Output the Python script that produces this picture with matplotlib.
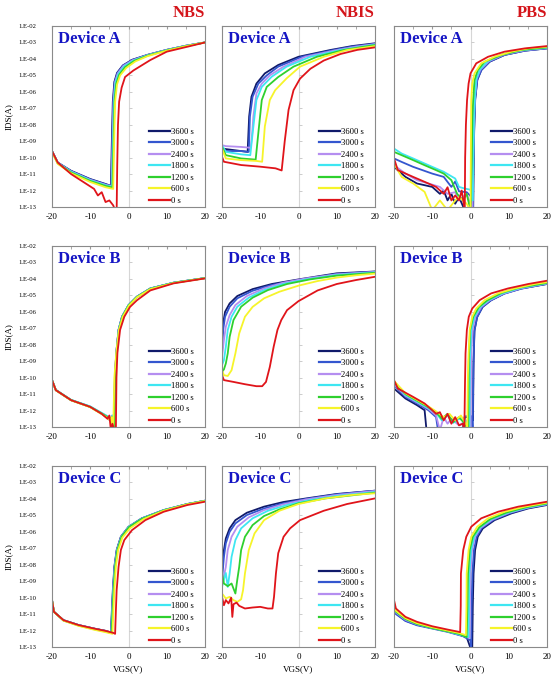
import numpy as np
import matplotlib.pyplot as plt
from matplotlib.ticker import NullLocator, FixedLocator, NullFormatter

plt.rcParams['font.family'] = ['Liberation Serif', 'DejaVu Serif']
plt.rcParams['axes.unicode_minus'] = False

times = ['3600 s', '3000 s', '2400 s', '1800 s', '1200 s', '600 s', '0 s']
colors = ['#101a6a', '#3456cf', '#b58ef0', '#3ee6f2', '#2ed02e', '#f6f42a', '#e0141a']
devices = ['Device A', 'Device B', 'Device C']
stresses = ['NBS', 'NBIS', 'PBS']
decades = list(range(-13, -1))

# each curve: (VGS values, log10 IDS values)
nbs_a = {
    '3600 s': ([-20, -18.5, -15, -10, -6, -4.6, -4.35, -4.1, -3.7, -3.0, -1.5, 1, 5, 10, 15, 20],
               [-9.6, -10.3, -10.8, -11.3, -11.6, -11.72, -9.0, -6.6, -5.4, -4.85, -4.4, -4.05, -3.75, -3.45, -3.2, -3.0]),
    '3000 s': ([-20, -18.5, -15, -10, -6, -4.5, -4.25, -4.0, -3.6, -2.9, -1.4, 1, 5, 10, 15, 20],
               [-9.6, -10.3, -10.82, -11.32, -11.62, -11.72, -9.0, -6.6, -5.4, -4.85, -4.4, -4.06, -3.76, -3.45, -3.2, -3.0]),
    '2400 s': ([-20, -18.5, -15, -10, -6, -4.4, -4.15, -3.9, -3.5, -2.8, -1.3, 1.1, 5, 10, 15, 20],
               [-9.62, -10.32, -10.84, -11.35, -11.65, -11.75, -9.0, -6.6, -5.42, -4.88, -4.42, -4.08, -3.77, -3.46, -3.2, -3.0]),
    '1800 s': ([-20, -18.5, -15, -10, -6, -4.3, -4.05, -3.8, -3.4, -2.6, -1.1, 1.3, 5, 10, 15, 20],
               [-9.62, -10.33, -10.86, -11.38, -11.68, -11.78, -9.0, -6.6, -5.45, -4.9, -4.45, -4.1, -3.78, -3.47, -3.21, -3.0]),
    '1200 s': ([-20, -18.5, -15, -10, -6, -4.2, -3.9, -3.65, -3.2, -2.4, -0.9, 1.5, 5, 10, 15, 20],
               [-9.63, -10.35, -10.9, -11.42, -11.72, -11.82, -9.0, -6.6, -5.5, -4.95, -4.5, -4.12, -3.8, -3.48, -3.22, -3.0]),
    '600 s': ([-20, -18.5, -15, -10, -6, -4.0, -3.75, -3.5, -3.0, -2.2, -0.6, 1.8, 5, 10, 15, 20],
              [-9.65, -10.38, -10.95, -11.48, -11.8, -11.9, -9.0, -6.6, -5.55, -5.0, -4.55, -4.15, -3.83, -3.5, -3.23, -3.0]),
    '0 s': ([-20, -18.5, -15, -11, -9, -8, -7, -6, -5, -4, -3.3, -3.1, -2.95, -2.75, -2.45, -1.8, -0.9, 1.3, 5.7, 10, 15.4, 20],
            [-9.6, -10.3, -11.0, -11.6, -11.9, -12.3, -12.1, -12.7, -12.6, -12.9, -13.3, -13.3, -10.5, -8.0, -6.6, -5.75, -5.1, -4.7, -4.07, -3.56, -3.26, -3.0]),
}

nbis_a = {
    '3600 s': ([-20, -15, -13.3, -12.9, -12.3, -11, -8.8, -5.3, 0, 8.3, 14, 20],
               [-9.45, -9.6, -9.65, -7.5, -6.3, -5.5, -4.88, -4.37, -3.87, -3.46, -3.22, -3.05]),
    '3000 s': ([-20, -19, -15, -13, -12.7, -12, -10.5, -8.3, -5.3, 0.9, 9.2, 14, 20],
               [-9.45, -9.6, -9.6, -9.65, -7.5, -6.3, -5.5, -5.0, -4.47, -3.87, -3.46, -3.25, -3.08]),
    '2400 s': ([-20, -19, -15, -12.5, -12.1, -11.8, -11, -9.6, -7.5, -3.9, 1.8, 10.1, 15, 20],
               [-9.24, -9.3, -9.35, -9.4, -8.5, -7.5, -6.1, -5.5, -5.0, -4.47, -3.87, -3.46, -3.26, -3.1]),
    '1800 s': ([-20, -19, -15, -12.6, -12, -11, -9.6, -7, -3.1, 3.1, 11, 15.5, 20],
               [-9.24, -9.65, -9.8, -9.85, -8.53, -6.5, -5.7, -5.08, -4.47, -3.87, -3.46, -3.3, -3.13]),
    '1200 s': ([-20, -19, -15, -11.2, -10.5, -9.6, -8.3, -5.3, -1.3, 4.8, 11.8, 16, 20],
               [-9.35, -9.85, -10.05, -10.12, -8.5, -6.5, -5.7, -5.1, -4.47, -3.87, -3.46, -3.3, -3.16]),
    '600 s': ([-20, -19, -15, -11, -9.5, -8.8, -7.5, -6.1, -3.1, 0.4, 6.6, 12.7, 20],
              [-9.45, -10.05, -10.15, -10.2, -10.25, -8.1, -6.5, -5.9, -5.18, -4.47, -3.87, -3.46, -3.22]),
    '0 s': ([-20, -19.5, -15, -10, -6, -4.4, -3.6, -2.6, -1.3, 0.4, 3.1, 6.6, 11, 15.4, 20],
            [-9.95, -10.25, -10.45, -10.55, -10.65, -10.78, -9.0, -7.1, -5.9, -5.2, -4.6, -4.1, -3.7, -3.45, -3.3]),
}

pbs_a = {
    '3600 s': ([-20, -17, -14, -10, -8, -7, -6, -5, -4, -3, -1.5, 0.7, 0.95, 1.2, 1.75, 2.8, 5.0, 8.9, 14.2, 20],
               [-10.56, -11.17, -11.57, -11.78, -12.2, -12.0, -12.6, -12.2, -12.8, -12.4, -13.2, -13.2, -8.5, -6.5, -5.29, -4.68, -4.17, -3.76, -3.5, -3.36]),
    '3000 s': ([-20, -18, -15, -10, -7, -5, -4, -3, -1, 0.3, 0.6, 0.75, 1.0, 1.25, 1.8, 2.9, 5.1, 9, 14.3, 20],
               [-10.05, -10.26, -10.56, -10.97, -11.17, -11.78, -11.45, -12.05, -12.1, -12.4, -13.2, -10.0, -7.8, -6.4, -5.25, -4.66, -4.15, -3.75, -3.5, -3.36]),
    '2400 s': ([-20, -17, -14, -11, -8, -6, -4, -3, -1, 0.5, 0.7, 0.9, 1.1, 1.6, 2.6, 4.8, 8.7, 14, 20],
               [-10.46, -10.97, -11.37, -11.57, -11.78, -12.2, -12.1, -12.6, -12.2, -13.2, -10, -7.5, -6.4, -5.2, -4.64, -4.14, -3.74, -3.48, -3.34]),
    '1800 s': ([-20, -18, -15, -10, -7, -4, -3, -1.5, 0, 0.6, 0.75, 0.9, 1.1, 1.5, 2.4, 4.5, 8.4, 13.7, 20],
               [-9.45, -9.75, -10.05, -10.56, -10.86, -11.27, -11.78, -11.88, -11.95, -12.6, -10, -7.8, -6.5, -5.25, -4.65, -4.13, -3.72, -3.46, -3.32]),
    '1200 s': ([-20, -18, -15, -12, -9, -7, -5, -3.5, -2, -1, 0, 0.35, 0.5, 0.7, 1.05, 1.9, 3.7, 8.1, 13.3, 20],
               [-9.65, -9.85, -10.15, -10.46, -10.76, -10.97, -11.37, -12.2, -12.6, -12.2, -13.2, -10, -7.5, -6.5, -5.29, -4.68, -4.17, -3.76, -3.46, -3.3]),
    '600 s': ([-20, -18, -15, -12, -10, -8, -6, -4, -3, -1, 0, 0.1, 0.2, 0.45, 1.05, 2.8, 6.3, 10.7, 15.1, 20],
              [-10.36, -11.17, -11.57, -12.08, -13.2, -12.6, -13.2, -12.6, -12.4, -12.8, -13.2, -9.5, -6.5, -5.5, -4.88, -4.27, -3.87, -3.56, -3.36, -3.26]),
    '0 s': ([-20, -19, -15, -12, -9, -7, -6, -5, -4, -3, -2.3, -1.5, -1.4, -1.2, -0.9, -0.5, 0, 1.5, 4.6, 8.9, 14.2, 20],
            [-10.05, -10.76, -11.17, -11.47, -11.78, -12.2, -11.8, -12.6, -12.3, -12.6, -12.0, -13.2, -10.0, -8.0, -6.5, -5.5, -4.88, -4.27, -3.87, -3.56, -3.36, -3.22]),
}

nbs_b = {
    '3600 s': ([-20, -19, -15, -10, -7, -5.5, -4.8, -4.3, -4.0, -3.8, -3.55, -3.2, -2.6, -1.7, 0, 2.2, 5.7, 11.8, 20],
               [-10.15, -10.76, -11.37, -11.78, -12.2, -12.45, -12.6, -12.5, -13.2, -13.2, -10, -8.5, -7.1, -6.3, -5.6, -5.08, -4.58, -4.23, -3.95]),
    '3000 s': ([-20, -19, -15, -10, -7, -5.5, -4.8, -4.3, -4.0, -3.8, -3.55, -3.2, -2.6, -1.7, 0, 2.2, 5.7, 11.8, 20],
               [-10.14, -10.75, -11.36, -11.77, -12.18, -12.42, -12.55, -12.45, -13.2, -13.2, -10, -8.5, -7.1, -6.3, -5.6, -5.08, -4.58, -4.23, -3.95]),
    '2400 s': ([-20, -19, -15, -10, -7, -5.5, -4.8, -4.3, -4.0, -3.8, -3.5, -3.15, -2.55, -1.65, 0, 2.2, 5.7, 11.8, 20],
               [-10.15, -10.76, -11.36, -11.76, -12.15, -12.35, -12.5, -12.3, -13.2, -13.2, -10, -8.5, -7.1, -6.3, -5.6, -5.09, -4.59, -4.23, -3.95]),
    '1800 s': ([-20, -19, -15, -10, -7, -5.5, -4.8, -4.5, -4.2, -3.9, -3.5, -3.15, -2.55, -1.65, 0, 2.2, 5.7, 11.8, 20],
               [-10.15, -10.75, -11.35, -11.75, -12.15, -12.35, -12.45, -12.8, -12.3, -13.2, -10, -8.5, -7.1, -6.3, -5.6, -5.09, -4.59, -4.23, -3.95]),
    '1200 s': ([-20, -19, -15, -10, -7, -5.5, -4.8, -4.3, -4.0, -3.8, -3.5, -3.1, -2.5, -1.6, 0, 2.2, 5.7, 11.8, 20],
               [-10.15, -10.76, -11.37, -11.78, -12.18, -12.4, -12.5, -12.4, -13.2, -13.2, -10, -8.5, -7.1, -6.3, -5.62, -5.1, -4.6, -4.24, -3.95]),
    '600 s': ([-20, -19, -15, -10, -7, -5.5, -4.8, -4.4, -4.2, -4.0, -3.7, -3.2, -2.5, -1.5, 0.1, 2.2, 5.7, 11.8, 20],
              [-10.16, -10.77, -11.38, -11.8, -12.22, -12.45, -12.6, -12.4, -13.2, -13.2, -10, -8.5, -7.1, -6.3, -5.63, -5.12, -4.62, -4.25, -3.96]),
    '0 s': ([-20, -19, -15, -10, -7, -5.5, -5, -4.6, -4.2, -3.7, -3.3, -3.15, -2.9, -2.2, -1.1, 0.4, 2.2, 5.7, 11.8, 20],
            [-10.15, -10.76, -11.37, -11.78, -12.2, -12.5, -12.3, -13.2, -12.8, -13.2, -13.2, -10, -8.5, -7.1, -6.3, -5.7, -5.3, -4.7, -4.27, -3.97]),
}

nbis_b = {
    '3600 s': ([-20, -19.7, -19.2, -18, -16, -12, -7, 0, 10, 20],
               [-7.92, -6.7, -6.0, -5.49, -5.04, -4.62, -4.31, -4.03, -3.66, -3.55]),
    '3000 s': ([-20, -19.7, -19.2, -18, -16, -12, -7, 0, 10, 20],
               [-8.33, -7.1, -6.3, -5.69, -5.18, -4.72, -4.37, -4.07, -3.7, -3.56]),
    '2400 s': ([-20, -19.5, -19, -18, -16.5, -13.5, -9, -4, 2, 10, 20],
               [-8.73, -7.72, -6.9, -6.2, -5.59, -5.04, -4.58, -4.23, -3.97, -3.72, -3.58]),
    '1800 s': ([-20, -19.5, -19, -18.5, -17.5, -16, -13, -9, -4, 2, 10, 20],
               [-9.24, -8.94, -8.13, -7.11, -6.3, -5.69, -5.14, -4.68, -4.31, -4.03, -3.76, -3.6]),
    '1200 s': ([-20, -19.5, -19, -18.5, -18, -17, -15, -12, -8, -3, 3, 10, 20],
               [-9.65, -9.5, -9.14, -8.53, -7.52, -6.5, -5.69, -5.14, -4.68, -4.31, -4.03, -3.8, -3.63]),
    '600 s': ([-20, -19.5, -18.5, -17.5, -16.5, -15.5, -14, -12, -9, -5, 0, 5, 10, 15, 20],
              [-9.55, -9.85, -9.9, -9.55, -8.53, -7.31, -6.3, -5.7, -5.18, -4.78, -4.41, -4.13, -3.92, -3.78, -3.68]),
    '0 s': ([-20, -19.5, -17, -14, -11, -9.5, -8.5, -7.5, -6.5, -5.5, -4.5, -3, 0, 5, 10, 15, 20],
            [-9.85, -10.15, -10.26, -10.4, -10.52, -10.52, -10.26, -9.35, -8.13, -7.1, -6.5, -5.9, -5.35, -4.7, -4.31, -4.07, -3.87]),
}

pbs_b = {
    '3600 s': ([-20, -17, -14, -12, -11.5, -2, -1.5, 0.5, 0.65, 0.8, 1.05, 1.75, 3.2, 5.4, 8.9, 13.3, 20],
               [-10.66, -11.27, -11.67, -11.98, -13.2, -13.2, -12.4, -12.4, -12.6, -9.0, -7.1, -6.3, -5.69, -5.29, -4.88, -4.58, -4.31]),
    '3000 s': ([-20, -17, -14, -11, -9, -8.5, -2, -1.5, 0.4, 0.55, 0.75, 1.0, 1.7, 3.1, 5.3, 8.8, 13.2, 20],
               [-10.46, -11.17, -11.57, -11.98, -12.4, -13.2, -13.2, -12.35, -12.35, -13.2, -9.5, -7.2, -6.35, -5.72, -5.31, -4.9, -4.6, -4.3]),
    '2400 s': ([-20, -17, -14, -11, -9, -8, -7, -6, -5, -3, -1, 0, 0.15, 0.5, 1.3, 2.8, 5, 8.5, 13, 20],
               [-10.4, -11.1, -11.5, -11.9, -12.3, -13.2, -12.4, -12.8, -12.5, -12.9, -12.6, -13.2, -9.0, -7.1, -6.3, -5.7, -5.3, -4.9, -4.58, -4.28]),
    '1800 s': ([-20, -17, -14, -11, -9, -7.5, -6, -4.5, -3, -1.5, -0.3, -0.15, 0.2, 1.0, 2.5, 4.7, 8.3, 12.8, 20],
               [-10.3, -11.05, -11.45, -11.85, -12.15, -12.6, -12.3, -12.75, -12.5, -12.6, -13.2, -9.0, -7.1, -6.3, -5.7, -5.3, -4.88, -4.56, -4.26]),
    '1200 s': ([-20, -17, -14, -11, -9, -7.5, -6, -4.5, -3, -1.5, -0.6, -0.45, -0.1, 0.7, 2.2, 4.4, 8, 12.5, 20],
               [-10.25, -11.0, -11.4, -11.8, -12.1, -12.5, -12.2, -12.7, -12.4, -12.8, -13.2, -9.0, -7.1, -6.3, -5.7, -5.3, -4.86, -4.54, -4.24]),
    '600 s': ([-20, -17, -14, -11, -9, -7, -5.5, -4, -2.5, -1, -0.85, -0.7, -0.5, -0.2, 0.45, 1.5, 3.7, 7.2, 11.6, 16.8, 20],
              [-10.2, -10.95, -11.35, -11.75, -12.05, -12.4, -12.2, -12.6, -12.3, -12.9, -13.2, -10, -8.53, -7.1, -6.3, -5.8, -5.29, -4.88, -4.58, -4.31, -4.2]),
    '0 s': ([-20, -19, -15, -12, -10, -9, -8, -7, -6, -5, -4, -3, -2, -1.6, -1.45, -1.3, -0.95, -0.45, 0.45, 2.4, 5.4, 9.8, 15.1, 20],
            [-10.15, -10.66, -11.17, -11.57, -11.98, -12.2, -12.1, -12.6, -12.2, -12.8, -12.4, -12.9, -12.8, -13.2, -10.5, -8.53, -7.1, -6.3, -5.8, -5.29, -4.88, -4.58, -4.31, -4.11]),
}

nbs_c = {
    '3600 s': ([-20, -19.5, -17, -13, -9, -6, -4.6, -4.35, -4.1, -3.7, -3.1, -2.0, 0, 3.5, 9.2, 15.4, 20],
               [-10.15, -10.86, -11.37, -11.67, -11.88, -12.02, -12.12, -10.8, -9.55, -8.13, -7.11, -6.3, -5.7, -5.18, -4.68, -4.31, -4.11]),
    '3000 s': ([-20, -19.5, -17, -13, -9, -6, -4.55, -4.3, -4.05, -3.65, -3.05, -1.95, 0, 3.5, 9.2, 15.4, 20],
               [-10.15, -10.86, -11.37, -11.67, -11.88, -12.02, -12.12, -10.8, -9.55, -8.13, -7.11, -6.3, -5.7, -5.18, -4.68, -4.31, -4.11]),
    '2400 s': ([-20, -19.5, -17, -13, -9, -6, -4.5, -4.25, -4.0, -3.6, -3.0, -1.9, 0.05, 3.55, 9.2, 15.4, 20],
               [-10.15, -10.86, -11.38, -11.68, -11.9, -12.04, -12.14, -10.8, -9.55, -8.13, -7.11, -6.3, -5.7, -5.19, -4.69, -4.32, -4.11]),
    '1800 s': ([-20, -19.5, -17, -13, -9, -6, -4.45, -4.2, -3.95, -3.55, -2.95, -1.85, 0.1, 3.6, 9.2, 15.4, 20],
               [-10.15, -10.86, -11.38, -11.68, -11.9, -12.04, -12.14, -10.8, -9.55, -8.13, -7.11, -6.3, -5.7, -5.19, -4.69, -4.32, -4.11]),
    '1200 s': ([-20, -19.5, -17, -13, -9, -6, -4.4, -4.15, -3.9, -3.5, -2.9, -1.8, 0.15, 3.6, 9.2, 15.4, 20],
               [-10.15, -10.86, -11.39, -11.7, -11.92, -12.06, -12.16, -10.8, -9.55, -8.13, -7.11, -6.3, -5.71, -5.2, -4.7, -4.32, -4.12]),
    '600 s': ([-20, -19.5, -17, -13, -9, -6, -4.2, -3.95, -3.7, -3.3, -2.7, -1.6, 0.4, 4.0, 9.2, 15.4, 20],
              [-10.15, -10.86, -11.4, -11.72, -11.95, -12.1, -12.2, -10.8, -9.55, -8.13, -7.11, -6.35, -5.78, -5.22, -4.72, -4.33, -4.13]),
    '0 s': ([-20, -19.5, -17, -13, -9, -6, -4, -3.5, -3.3, -3.1, -2.6, -2.0, -1.1, 0.9, 4.4, 9.2, 15.4, 20],
            [-10.15, -10.86, -11.37, -11.67, -11.88, -12.02, -12.14, -12.2, -10.8, -9.55, -8.13, -7.11, -6.5, -5.9, -5.29, -4.78, -4.37, -4.17]),
}

nbis_c = {
    '3600 s': ([-20, -19.5, -19, -18, -16.5, -13.5, -9, -4, 2, 10, 20],
               [-8.33, -7.11, -6.4, -5.79, -5.29, -4.84, -4.47, -4.19, -3.97, -3.7, -3.5]),
    '3000 s': ([-20, -19.5, -19, -18, -16.5, -13.5, -9, -4, 2, 10, 20],
               [-8.94, -7.52, -6.7, -6.0, -5.49, -4.98, -4.58, -4.27, -4.0, -3.72, -3.5]),
    '2400 s': ([-20, -19.5, -19, -18.5, -17.5, -16, -13, -9, -4, 2, 10, 20],
               [-9.14, -8.7, -8.13, -7.11, -6.3, -5.69, -5.12, -4.68, -4.33, -4.03, -3.76, -3.52]),
    '1800 s': ([-20, -19.5, -19, -18.5, -18, -17.5, -16.5, -15, -12, -8, -3, 3, 10, 20],
               [-9.35, -8.9, -8.5, -9.35, -8.53, -7.52, -6.5, -5.79, -5.18, -4.72, -4.37, -4.07, -3.82, -3.58]),
    '1200 s': ([-20, -19.5, -18.5, -17.5, -16.5, -16, -15.5, -15, -14, -12, -9, -5, 0, 7, 20],
               [-8.53, -9.14, -9.3, -9.14, -9.75, -8.9, -8.13, -7.11, -6.3, -5.59, -5.04, -4.64, -4.27, -3.97, -3.62]),
    '600 s': ([-20, -19, -18, -17, -16, -15, -14.5, -14, -13, -11.5, -9, -5, 0, 7, 14, 20],
              [-9.75, -10.05, -9.95, -10.15, -10.26, -10.1, -9.55, -8.53, -7.11, -6.1, -5.29, -4.72, -4.31, -3.97, -3.76, -3.66]),
    '0 s': ([-20, -19.5, -19, -18.3, -17.6, -17.3, -17, -16.2, -15.5, -14, -12, -10, -8, -6.8, -6.4, -5.9, -5.3, -3.9, -2.2, 0.4, 6.6, 12.7, 20],
            [-9.95, -10.46, -10.15, -10.35, -10.0, -11.17, -10.4, -10.3, -10.5, -10.66, -10.6, -10.56, -10.66, -10.66, -9.95, -8.53, -7.3, -6.3, -5.79, -5.29, -4.72, -4.31, -3.97]),
}

pbs_c = {
    '3600 s': ([-20, -19.5, -17, -14, -10, -6, -3, -1, 0.2, 0.45, 0.6, 0.8, 1.2, 1.9, 3.2, 6.3, 10.7, 15.1, 20],
               [-10.46, -10.95, -11.4, -11.65, -11.85, -12.05, -12.25, -12.4, -13.2, -13.2, -10.5, -8.53, -7.11, -6.3, -5.8, -5.29, -4.88, -4.58, -4.37]),
    '3000 s': ([-20, -19.5, -17, -14, -10, -6, -2, 0, 0.15, 0.3, 0.5, 0.9, 1.6, 2.9, 6.0, 10.4, 14.9, 20],
               [-10.56, -11.0, -11.42, -11.68, -11.88, -12.08, -12.34, -12.6, -13.2, -10.5, -8.53, -7.11, -6.3, -5.78, -5.27, -4.86, -4.56, -4.34]),
    '2400 s': ([-20, -19.5, -17, -14, -10, -6, -2, -0.3, -0.15, -0.05, 0.4, 1.2, 2.7, 5.8, 10.1, 14.8, 20],
               [-10.4, -10.9, -11.35, -11.62, -11.85, -12.05, -12.3, -12.45, -10.5, -8.53, -7.11, -6.3, -5.75, -5.25, -4.84, -4.54, -4.32]),
    '1800 s': ([-20, -19.5, -17, -14, -10, -6, -2, -0.55, -0.4, -0.3, 0.15, 0.95, 2.5, 5.5, 9.8, 14.8, 20],
               [-10.35, -10.85, -11.3, -11.6, -11.85, -12.05, -12.3, -12.4, -10.5, -8.53, -7.11, -6.3, -5.73, -5.23, -4.83, -4.52, -4.3]),
    '1200 s': ([-20, -19.5, -17, -14, -10, -6, -3, -1, -0.8, -0.65, -0.2, 0.6, 2.3, 5.2, 9.5, 14.6, 20],
               [-10.35, -10.85, -11.3, -11.6, -11.85, -12.05, -12.2, -12.4, -10.5, -8.53, -7.11, -6.3, -5.72, -5.22, -4.82, -4.5, -4.27]),
    '600 s': ([-20, -19.5, -17, -14, -10, -6, -3, -1.2, -1.05, -1.0, -0.5, 0.2, 1.75, 4.6, 8.9, 14.2, 20],
              [-10.3, -10.8, -11.25, -11.55, -11.8, -12.0, -12.15, -12.28, -10.5, -8.53, -7.11, -6.3, -5.69, -5.18, -4.78, -4.47, -4.23]),
    '0 s': ([-20, -19.5, -17, -14, -10, -6, -3, -2.7, -2.55, -2.5, -1.9, -1.1, 0.2, 2.8, 7.2, 12.5, 20],
            [-10.15, -10.66, -11.17, -11.47, -11.74, -11.94, -12.08, -12.1, -10.5, -8.53, -7.11, -6.3, -5.69, -5.18, -4.78, -4.47, -4.17]),
}

panels = [[nbs_a, nbis_a, pbs_a],
          [nbs_b, nbis_b, pbs_b],
          [nbs_c, nbis_c, pbs_c]]

W, H = 553, 676
fig = plt.figure(figsize=(W / 100, H / 100), dpi=100)
lefts = [52, 222, 394]
tops = [26, 246, 466]
pw, ph = 153, 181

for r in range(3):
    for c in range(3):
        ax = fig.add_axes([lefts[c] / W, 1 - (tops[r] + ph) / H, pw / W, ph / H])
        data = panels[r][c]

        # vertical axis line crossing at VGS = 0
        ax.axvline(0, color='#d6d6d6', lw=0.8, zorder=0)

        for t, col in zip(times, colors):
            v, logi = data[t]
            ax.plot(v, 10.0 ** np.array(logi), color=col, lw=1.3, label=t)

        ax.set_yscale('log')
        ax.set_ylim(1e-13, 1e-2)
        ax.set_xlim(-20, 20)
        ax.yaxis.set_major_locator(FixedLocator([10.0 ** k for k in decades]))
        ax.yaxis.set_minor_locator(NullLocator())
        ax.set_xticks([-20, -10, 0, 10, 20])
        ax.xaxis.set_minor_locator(FixedLocator([-15, -5, 5, 15]))
        ax.tick_params(axis='x', which='both', bottom=False, top=True, direction='in',
                       length=2.5, color='#9a9a9a', labelsize=6.5, pad=4)
        ax.tick_params(axis='y', which='both', left=False, length=0, labelsize=4.8, pad=11.5)
        if c == 0:
            ax.set_yticklabels(['1.E-%02d' % (-k) for k in decades])
            ax.set_ylabel('IDS(A)', fontsize=6.5, labelpad=4)
        else:
            ax.set_yticklabels([])
        if r == 2:
            ax.set_xlabel('VGS(V)', fontsize=6.5, labelpad=3)
        for s in ax.spines.values():
            s.set_color('#8a8a8a')
            s.set_linewidth(0.8)

        # decade tick marks on the VGS = 0 line
        sec = ax.secondary_yaxis(0.5)
        sec.yaxis.set_major_locator(FixedLocator([10.0 ** k for k in decades]))
        sec.yaxis.set_minor_locator(NullLocator())
        sec.yaxis.set_major_formatter(NullFormatter())
        sec.yaxis.set_ticks_position('right')
        sec.tick_params(which='both', direction='out', length=2.5, width=0.6, color='#c4c4c4',
                        labelleft=False, labelright=False)
        for s in sec.spines.values():
            s.set_visible(False)

        ax.text(0.04, 0.975, devices[r], transform=ax.transAxes, ha='left', va='top',
                color='#1414c4', fontsize=12, fontweight='bold')
        if r == 0:
            ax.text(1.0, 1.025, stresses[c], transform=ax.transAxes, ha='right', va='bottom',
                    color='#d4141a', fontsize=12, fontweight='bold')

        leg = ax.legend(loc='lower right', bbox_to_anchor=(0.945, 0.0), frameon=False,
                        fontsize=6.2, handlelength=2.4, handletextpad=0.15, labelspacing=0.4,
                        borderaxespad=0.1, borderpad=0.15)
        for h in leg.get_lines():
            h.set_linewidth(1.6)

fig.savefig('out.png', dpi=100)
